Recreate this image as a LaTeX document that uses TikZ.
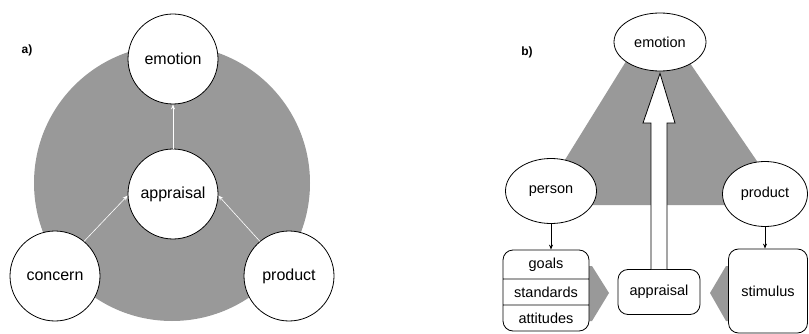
\documentclass[tikz,border=0pt]{standalone}
\usepackage{fontspec}
\setmainfont{Liberation Sans}
\usetikzlibrary{arrows.meta,shapes.geometric,shapes.multipart}

\definecolor{discgray}{RGB}{153,153,153}

\tikzset{
  bubble/.style={circle, draw, fill=white, minimum size=90pt, inner sep=0pt,
    font=\fontsize{16}{18}\selectfont},
  oval/.style={ellipse, draw, fill=white, inner sep=0pt,
    font=\fontsize{14.5}{17}\selectfont},
  box/.style={draw, fill=white, rounded corners=10pt, inner sep=0pt,
    font=\fontsize{14.5}{17}\selectfont},
  tag/.style={font=\bfseries\fontsize{12}{14}\selectfont},
  lead/.style={-{Stealth[length=5pt,width=4pt]}}
}

\begin{document}
\begin{tikzpicture}[x=1pt, y=-1pt, line width=0.8pt]
    \useasboundingbox (0,0) rectangle (809,334);

    % Left: the grey disc with the four circles
    \fill[discgray] (172,183) circle (138pt);
    \node[tag] (taga) at (27,50) {a)};

    \node[bubble] (emotion) at (173,59) {emotion};
    \node[bubble] (appraisal) at (173,194) {appraisal};
    \node[bubble] (concern) at (55,276) {concern};
    \node[bubble] (product) at (289,276) {product};

    % White arrows into and out of the appraisal
    \draw[lead, white, line width=0.6pt] (appraisal) -- (emotion);
    \draw[lead, white, line width=0.6pt] (concern.50) -- (appraisal.182);
    \draw[lead, white, line width=0.6pt] (product.130) -- (appraisal.-2);

    % Right: the grey wedge under the ellipses
    \fill[discgray] (633,50) -- (681,50) -- (787,205) -- (537,205) -- cycle;
    \node[tag] (tagb) at (527,52) {b)};

    % Grey arrows pointing at the appraisal box
    \fill[discgray] (583,266) -- (592,266) -- (609,293) -- (592,321) -- (583,321) -- cycle;
    \fill[discgray] (710,293) -- (726,266) -- (735,266) -- (735,321) -- (726,321) -- cycle;

    \node[oval, minimum width=92pt, minimum height=58pt] (emo) at (660,42) {emotion};
    \node[oval, minimum width=91pt, minimum height=65pt] (person) at (551,191) {person};
    \node[oval, minimum width=85pt, minimum height=65pt] (prod) at (765,194) {product};

    \node[rectangle split, rectangle split parts=3, draw, fill=white,
      rounded corners=10pt, minimum width=86pt, inner ysep=7.3pt,
      text height=10.5pt, text depth=3pt,
      font=\fontsize{14.5}{17}\selectfont] (values) at (546,290.5)
      {goals \nodepart{two} standards \nodepart{three} attitudes};
    \node[box, minimum width=82pt, minimum height=45pt] (appr) at (659,292) {appraisal};
    \node[box, minimum width=79pt, minimum height=84pt] (stim) at (768,291) {stimulus};

    % Small black arrows
    \draw[lead] (person.south) -- (person.south |- values.north);
    \draw[lead] (prod.south) -- (prod.south |- stim.north);

    % Big hollow arrow from appraisal up to emotion
    \draw[fill=white] ([xshift=-8pt]appr.north) -- (651,123) -- (643,123)
      -- ([yshift=-2pt]emo.south) -- (675,123) -- (667,123) -- ([xshift=8pt]appr.north);
  \end{tikzpicture}
\end{document}
